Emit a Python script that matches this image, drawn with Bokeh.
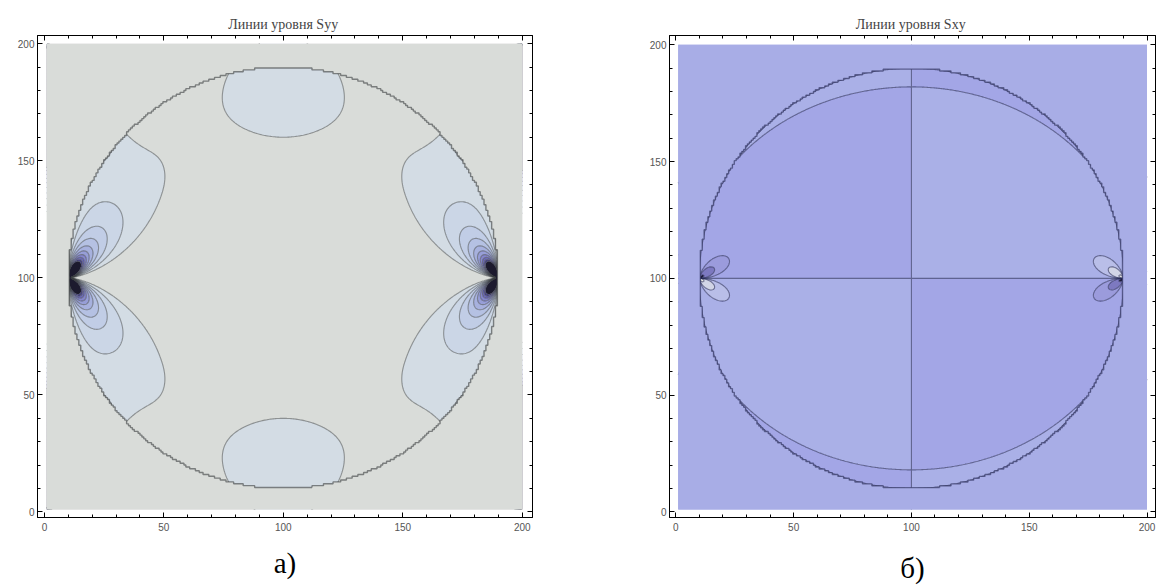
import numpy as np
from bokeh.plotting import figure
from bokeh.layouts import row
from bokeh.models import Range1d, LinearAxis, FixedTicker
from bokeh.embed import file_html
from bokeh.resources import INLINE

# ---- disk under diametral compression --------------------------------------
DISK_CENTER = (100.0, 100.0)
DISK_RADIUS = 90.0
EDGE_CELL = 0.8                    # sampling cell of the disk outline

# Syy: dips under the top/bottom edge and along the rim near the loads
SYY_TOP_DIP = 0.51
SYY_TOP_SPREAD = (28.0, 30.0)      # horizontal / vertical spread
SYY_TOP_DEPTH = 0.85               # centre of the dip, fraction of R
SYY_SIDE_DIP = 1.1
SYY_SIDE_ONSET = (44.0, 54.0)      # degrees from the vertical

# Sxy: semi-axes of the zero-shear ellipse
SHEAR_NEUTRAL_AXES = (94.5, 82.0)

# ---- contour levels (stress in units of P/(pi R)) and band colours ----------
SYY_LEVELS = [-1e5, -7.43, -6.63, -5.83, -5.03, -4.23, -3.43, -2.63,
              -1.83, -1.03, -0.23, 1e5]
SYY_COLORS = ["#1c1a2e", "#4c488c", "#6d6bb6", "#8586cb", "#979ed7", "#a7b1de",
              "#b5c1e3", "#c1cde6", "#cbd6e6", "#d3dce4", "#d9dcd9"]
SYY_BACKGROUND = "#d9dcd9"

SXY_LEVELS = [-1e5, -30.0, -9.0, -4.5, 0.0, 4.5, 9.0, 30.0, 1e5]
SXY_COLORS = ["#201c3a", "#7d79c0", "#9b9bdc", "#a3a6e6",
              "#aab0e7", "#b9bee8", "#d2d5e6", "#f0f0ea"]
SXY_BACKGROUND = "#a8ade6"

# ---- axes ---------------------------------------------------------------------
MAJOR_TICKS = [0, 50, 100, 150, 200]
MINOR_TICKS = list(range(0, 201, 10))
PLOT_AREA = (1.0, 200.0)

TITLES = ["Линии уровня  Syy", "Линии уровня  Sxy"]
CAPTIONS = ["а)", "б)"]


def stress_field(X, Y):
    """Two Flamant point loads on the horizontal diameter plus uniform tension."""
    cx, cy = DISK_CENTER
    R = DISK_RADIUS
    syy = np.ones_like(X)
    sxy = np.zeros_like(X)
    for px, sign in ((cx - R, 1.0), (cx + R, -1.0)):
        dx = X - px
        dy = Y - cy
        r2 = dx * dx + dy * dy
        sr = -2.0 * R * sign * dx / r2
        syy += sr * dy * dy / r2
        sxy += sr * dx * dy / r2
    u = X - cx
    v = Y - cy
    rho2 = u * u + v * v

    su, sv = SYY_TOP_SPREAD
    vc = SYY_TOP_DEPTH * R
    for c in (vc, -vc):
        syy -= SYY_TOP_DIP * np.exp(-(u / su) ** 2 - ((v - c) / sv) ** 2)
    psi = np.degrees(np.arctan2(np.abs(u), np.abs(v)))
    lo, hi = SYY_SIDE_ONSET
    s = np.clip((psi - lo) / (hi - lo), 0.0, 1.0)
    s = s * s * (3.0 - 2.0 * s)
    syy -= SYY_SIDE_DIP * (rho2 / R ** 2) ** 6 * s * 2.0 * np.abs(u * v) / rho2

    a, b = SHEAR_NEUTRAL_AXES
    sxy *= (1.0 - u * u / a ** 2 - v * v / b ** 2) / (1.0 - rho2 / a ** 2)
    return np.clip(syy, -9e4, 9e4), np.clip(sxy, -9e4, 9e4)


def disk_edge(cell):
    """Staircase outline of the disk made of whole sampling cells."""
    cx, cy = DISK_CENTER
    R = DISK_RADIUS
    n = int(np.ceil(R / cell)) + 1
    rx, ry, lx, ly = [], [], [], []
    for k in range(-n, n):
        y0 = k * cell
        yc = y0 + 0.5 * cell
        if abs(yc) >= R:
            continue
        half = np.sqrt(R * R - yc * yc)
        jmax = np.floor(half / cell - 0.5)
        if jmax < 0:
            continue
        xr = (jmax + 1) * cell
        rx += [cx + xr, cx + xr]
        ry += [cy + y0, cy + y0 + cell]
        lx += [cx - xr, cx - xr]
        ly += [cy + y0, cy + y0 + cell]
    ex = rx + lx[::-1]
    ey = ry + ly[::-1]
    return ex + ex[:1], ey + ey[:1]


xs = np.linspace(PLOT_AREA[0], PLOT_AREA[1], 400)
ys = np.linspace(PLOT_AREA[0], PLOT_AREA[1], 400)
XX, YY = np.meshgrid(xs, ys)
SYY, SXY = stress_field(XX, YY)
EDGE_X, EDGE_Y = disk_edge(EDGE_CELL)
LO, HI = PLOT_AREA
RECT_X = [LO, HI, HI, LO]
RECT_Y = [LO, LO, HI, HI]


def panel(title, caption, z, levels, colors, background, line_rgb, line_alpha,
          width, x_range, y_range, borders, cap_standoff):
    left, right, top, bottom = borders
    p = figure(width=width, height=586, output_backend="svg", toolbar_location=None,
               x_range=Range1d(*x_range), y_range=Range1d(*y_range),
               min_border_left=left, min_border_right=right,
               min_border_top=top, min_border_bottom=bottom,
               background_fill_color="white", border_fill_color="white")
    p.grid.visible = False
    p.outline_line_color = "black"
    p.outline_line_width = 1

    p.title.text = title
    p.title.align = "center"
    p.title.text_font = "Liberation Serif"
    p.title.text_font_size = "14px"
    p.title.text_font_style = "normal"
    p.title.standoff = 8

    p.add_layout(LinearAxis(), "above")
    p.add_layout(LinearAxis(), "right")
    for ax in p.axis:
        ax.ticker = FixedTicker(ticks=MAJOR_TICKS, minor_ticks=MINOR_TICKS)
        ax.major_tick_in = 5
        ax.major_tick_out = 0
        ax.minor_tick_in = 3
        ax.minor_tick_out = 0
        ax.axis_line_color = "black"
        ax.major_tick_line_color = "black"
        ax.minor_tick_line_color = "black"
        ax.major_label_text_font = "Liberation Sans"
        ax.major_label_text_font_size = "10px"
        ax.major_label_text_color = "#555555"
    for ax in p.above + p.right:
        ax.major_label_text_font_size = "0px"
        ax.major_label_standoff = 0
    p.yaxis[0].major_label_standoff = 3
    p.xaxis[0].major_label_standoff = 5
    p.below[0].axis_label = caption
    p.below[0].axis_label_text_font = "Liberation Serif"
    p.below[0].axis_label_text_font_size = "29px"
    p.below[0].axis_label_text_font_style = "normal"
    p.below[0].axis_label_text_color = "black"
    p.below[0].axis_label_standoff = cap_standoff

    p.contour(xs, ys, z, levels, fill_color=colors, line_color=line_rgb,
              line_alpha=line_alpha, line_width=1.1)
    # everything outside the disk is one flat band
    p.multi_polygons(xs=[[[RECT_X, EDGE_X]]], ys=[[[RECT_Y, EDGE_Y]]],
                     fill_color=background, line_color=None)
    p.line(EDGE_X, EDGE_Y, line_color=line_rgb, line_alpha=0.6, line_width=1.4)
    return p


p1 = panel(TITLES[0], CAPTIONS[0], SYY, SYY_LEVELS, SYY_COLORS, SYY_BACKGROUND,
           "#3a3d40", 0.5, 600, (-2.9, 204.3), (-2.4, 203.5), (37, 68, 32, 61), 13)
p2 = panel(TITLES[1], CAPTIONS[1], SXY, SXY_LEVELS, SXY_COLORS, SXY_BACKGROUND,
           "#262a55", 0.6, 557, (-2.7, 203.6), (-2.4, 204.0), (69, 2, 35, 66), 18)

layout = row(p1, p2)
open("out.html", "w").write(file_html(layout, INLINE))
